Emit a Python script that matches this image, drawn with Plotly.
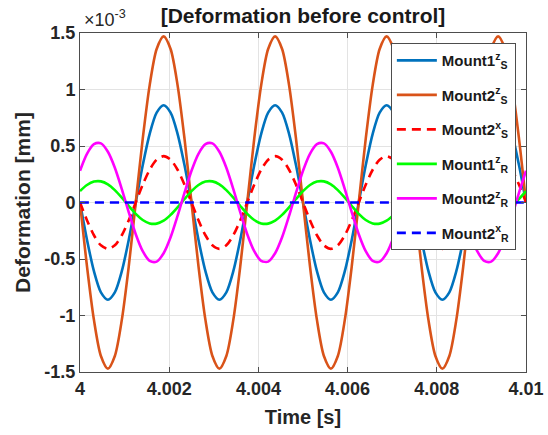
import plotly.graph_objects as go

# Time samples [s] (sixteenth-period spacing)
time_s = [4.0, 4.00015625, 4.0003125, 4.00046875, 4.000625, 4.00078125, 4.0009375, 4.00109375,
          4.00125, 4.00140625, 4.0015625, 4.00171875, 4.001875, 4.00203125, 4.0021875, 4.00234375,
          4.0025, 4.00265625, 4.0028125, 4.00296875, 4.003125, 4.00328125, 4.0034375, 4.00359375,
          4.00375, 4.00390625, 4.0040625, 4.00421875, 4.004375, 4.00453125, 4.0046875, 4.00484375,
          4.005, 4.00515625, 4.0053125, 4.00546875, 4.005625, 4.00578125, 4.0059375, 4.00609375,
          4.00625, 4.00640625, 4.0065625, 4.00671875, 4.006875, 4.00703125, 4.0071875, 4.00734375,
          4.0075, 4.00765625, 4.0078125, 4.00796875, 4.008125, 4.00828125, 4.0084375, 4.00859375,
          4.00875, 4.00890625, 4.0090625, 4.00921875, 4.009375, 4.00953125, 4.0096875, 4.00984375,
          4.01]

# Deformation values in units of 1e-3 mm
mount1_s_z = [0, -0.329, -0.608, -0.795, -0.86, -0.795, -0.608, -0.329, 0, 0.329, 0.608, 0.795, 0.86, 0.795, 0.608, 0.329,
              0, -0.329, -0.608, -0.795, -0.86, -0.795, -0.608, -0.329, 0, 0.329, 0.608, 0.795, 0.86, 0.795, 0.608, 0.329,
              0, -0.329, -0.608, -0.795, -0.86, -0.795, -0.608, -0.329, 0, 0.329, 0.608, 0.795, 0.86, 0.795, 0.608, 0.329,
              0, -0.329, -0.608, -0.795, -0.86, -0.795, -0.608, -0.329, 0, 0.329, 0.608, 0.795, 0.86, 0.795, 0.608, 0.329,
              0]
mount2_s_z = [0, -0.563, -1.039, -1.358, -1.47, -1.358, -1.039, -0.563, 0, 0.563, 1.039, 1.358, 1.47, 1.358, 1.039, 0.563,
              0, -0.563, -1.039, -1.358, -1.47, -1.358, -1.039, -0.563, 0, 0.563, 1.039, 1.358, 1.47, 1.358, 1.039, 0.563,
              0, -0.563, -1.039, -1.358, -1.47, -1.358, -1.039, -0.563, 0, 0.563, 1.039, 1.358, 1.47, 1.358, 1.039, 0.563,
              0, -0.563, -1.039, -1.358, -1.47, -1.358, -1.039, -0.563, 0, 0.563, 1.039, 1.358, 1.47, 1.358, 1.039, 0.563,
              0]
mount2_s_x = [0, -0.157, -0.29, -0.379, -0.41, -0.379, -0.29, -0.157, 0, 0.157, 0.29, 0.379, 0.41, 0.379, 0.29, 0.157,
              0, -0.157, -0.29, -0.379, -0.41, -0.379, -0.29, -0.157, 0, 0.157, 0.29, 0.379, 0.41, 0.379, 0.29, 0.157,
              0, -0.157, -0.29, -0.379, -0.41, -0.379, -0.29, -0.157, 0, 0.157, 0.29, 0.379, 0.41, 0.379, 0.29, 0.157,
              0, -0.157, -0.29, -0.379, -0.41, -0.379, -0.29, -0.157, 0, 0.157, 0.29, 0.379, 0.41, 0.379, 0.29, 0.157,
              0]
mount1_r_z = [0.101, 0.155, 0.185, 0.187, 0.161, 0.110, 0.043, -0.031, -0.101, -0.155, -0.185, -0.187, -0.161, -0.110, -0.043, 0.031,
              0.101, 0.155, 0.185, 0.187, 0.161, 0.110, 0.043, -0.031, -0.101, -0.155, -0.185, -0.187, -0.161, -0.110, -0.043, 0.031,
              0.101, 0.155, 0.185, 0.187, 0.161, 0.110, 0.043, -0.031, -0.101, -0.155, -0.185, -0.187, -0.161, -0.110, -0.043, 0.031,
              0.101, 0.155, 0.185, 0.187, 0.161, 0.110, 0.043, -0.031, -0.101, -0.155, -0.185, -0.187, -0.161, -0.110, -0.043, 0.031,
              0.101]
mount2_r_z = [0.281, 0.431, 0.516, 0.523, 0.449, 0.308, 0.119, -0.087, -0.281, -0.431, -0.516, -0.523, -0.449, -0.308, -0.119, 0.087,
              0.281, 0.431, 0.516, 0.523, 0.449, 0.308, 0.119, -0.087, -0.281, -0.431, -0.516, -0.523, -0.449, -0.308, -0.119, 0.087,
              0.281, 0.431, 0.516, 0.523, 0.449, 0.308, 0.119, -0.087, -0.281, -0.431, -0.516, -0.523, -0.449, -0.308, -0.119, 0.087,
              0.281, 0.431, 0.516, 0.523, 0.449, 0.308, 0.119, -0.087, -0.281, -0.431, -0.516, -0.523, -0.449, -0.308, -0.119, 0.087,
              0.281]
mount2_r_x = [0] * 65

series_names = ["Mount1<sup>z</sup><sub>S</sub>", "Mount2<sup>z</sup><sub>S</sub>",
                "Mount2<sup>x</sup><sub>S</sub>", "Mount1<sup>z</sup><sub>R</sub>",
                "Mount2<sup>z</sup><sub>R</sub>", "Mount2<sup>x</sup><sub>R</sub>"]

x_tick_vals = [4.0, 4.002, 4.004, 4.006, 4.008, 4.01]
x_tick_text = ["4", "4.002", "4.004", "4.006", "4.008", "4.01"]
y_tick_vals = [-1.5, -1, -0.5, 0, 0.5, 1, 1.5]
y_tick_text = ["-1.5", "-1", "-0.5", "0", "0.5", "1", "1.5"]

styles = [("#0072BD", "solid"), ("#D95319", "solid"), ("#FF0000", "9px,6px"),
          ("#00FF00", "solid"), ("#FF00FF", "solid"), ("#0000FF", "9px,6px")]
data = [mount1_s_z, mount2_s_z, mount2_s_x, mount1_r_z, mount2_r_z, mount2_r_x]

fig = go.Figure()
for i, (name, ys, (col, dash)) in enumerate(zip(series_names, data, styles)):
    fig.add_trace(go.Scatter(x=time_s, y=ys, mode="lines", name=f"<b>{name}</b>",
                             legendgroup=f"g{i}",
                             line=dict(color=col, width=2.6, dash=dash, shape="spline", smoothing=0.8)))

font_family = "Liberation Sans, Arial, sans-serif"
axis_common = dict(showline=True, linecolor="#4d4d4d", linewidth=1, mirror="ticks",
                   ticks="inside", ticklen=5, tickcolor="#4d4d4d", automargin=False,
                   showgrid=True, gridcolor="#e3e3e3", gridwidth=1, zeroline=False,
                   tickfont=dict(family=font_family, size=18, color="#262626"))

fig.update_layout(
    width=548, height=435,
    margin=dict(l=80, r=22, t=33, b=63),
    paper_bgcolor="white", plot_bgcolor="white",
    font=dict(family=font_family, color="#262626"),
    title=dict(text="<b>[Deformation before control]</b>", xref="paper", x=0.5, xanchor="center",
               yref="container", y=0.98, yanchor="top", font=dict(size=21, color="#1a1a1a")),
    xaxis=dict(range=[4.0, 4.01], tickvals=x_tick_vals, ticktext=[f"<b>{t}</b>" for t in x_tick_text],
               title=dict(text="<b>Time [s]</b>", font=dict(size=20), standoff=12), **axis_common),
    yaxis=dict(range=[-1.5, 1.5], tickvals=y_tick_vals, ticktext=[f"<b>{t}</b>" for t in y_tick_text],
               title=dict(text="<b>Deformation [mm]</b>", font=dict(size=21), standoff=8), **axis_common),
    legend=dict(x=0.697, y=0.970, xanchor="left", yanchor="top",
                bgcolor="white", bordercolor="#4d4d4d", borderwidth=1,
                font=dict(family=font_family, size=15, color="#1a1a1a"),
                itemwidth=40, traceorder="grouped", tracegroupgap=12),
    showlegend=True,
)

fig.add_annotation(text="×10<sup>-3</sup>", xref="paper", yref="paper", x=0.004, y=1.0,
                   xanchor="left", yanchor="bottom", yshift=1, showarrow=False,
                   font=dict(family=font_family, size=18, color="#262626"))

fig.write_html("out.html", config={"displayModeBar": False},
               post_script="document.body.style.margin='0';document.body.style.overflow='hidden';")
